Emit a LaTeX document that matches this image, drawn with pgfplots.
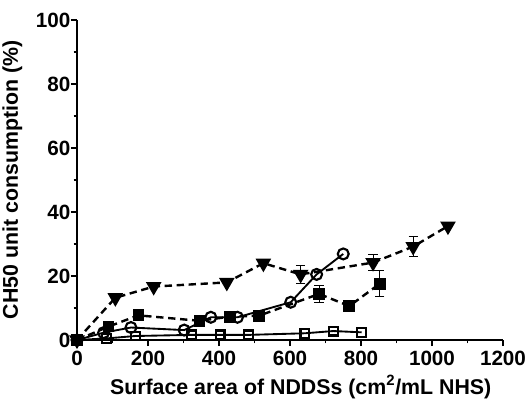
\documentclass[border=0pt]{standalone}
\usepackage{pgfplots}
\pgfplotsset{compat=1.18}
\usepackage{pgfplotstable}
\usepackage{fontspec}
\setmainfont{Liberation Sans}
\pgfplotstableread{
x y ey
0 0 0
108 13.2 0
216 16.7 0
422 18.0 0
525 24.0 0
630 20.5 2.8
834 24.2 2.5
947 29.2 3.2
1045 35.6 0
}\tri
\pgfplotstableread{
x y ey
0 0 0
89 4.2 0
173 7.7 0
345 6.0 0
431 7.3 0
513 7.6 0
682 14.4 2.7
767 10.6 0
853 17.6 4.0
}\fsq
\pgfplotstableread{
x y
0 0
75 2.3
152 3.9
302 3.1
377 7.1
452 7.1
602 11.8
675 20.5
750 26.9
}\ocirc
\pgfplotstableread{
x y
0 0
84 0.5
164 1.25
323 1.6
403 1.6
483 1.6
642 2.1
722 2.8
802 2.4
}\osq
\begin{document}
\begin{tikzpicture}
\begin{axis}[
  at={(57.75pt,48pt)}, anchor=south west,
  scale only axis,
  width=319.5pt, height=240pt,
  xmin=0, xmax=1200, ymin=0, ymax=100,
  axis lines=left,
  axis line style={-, line width=1.8pt},
  clip=false,
  xtick={0,200,...,1200},
  ytick={0,20,...,100},
  minor x tick num=1,
  minor y tick num=1,
  tick align=outside,
  major tick length=4.5pt,
  minor tick length=2.5pt,
  every tick/.style={black, line width=1.4pt},
  tick label style={font=\bfseries\fontsize{15.5}{17}\selectfont},
  yticklabel style={xshift=3pt},
  /pgf/number format/assume math mode=true,
  /pgf/number format/1000 sep={},
  label style={font=\bfseries\fontsize{16}{18}\selectfont},
  xlabel={Surface area of NDDSs (cm\textsuperscript{2}/mL NHS)},
  ylabel={CH50 unit consumption (\%)},
  xlabel style={at={(axis description cs:0.5,0)}, anchor=base, yshift=-40.5pt, xshift=8pt},
  ylabel style={at={(axis description cs:0,0.5)}, anchor=center, yshift=48.5pt},
  error bars/error bar style={line width=0.8pt, solid},
  error bars/error mark options={rotate=90, mark size=3.5pt, line width=0.8pt},
]
\addplot[black, line width=1.8pt, dash pattern=on 5.5pt off 3.5pt, mark=triangle*, mark size=5pt, mark options={solid, rotate=180},
  error bars/.cd, y dir=both, y explicit] table[x=x, y=y, y error=ey] {\tri};
\addplot[black, line width=1.8pt, dash pattern=on 5.5pt off 3.5pt, mark=square*, mark size=3.5pt, mark options={solid},
  error bars/.cd, y dir=both, y explicit] table[x=x, y=y, y error=ey] {\fsq};
\addplot[black, line width=1.4pt, mark=o, mark size=4.1pt, mark options={solid, fill=white, line width=1.6pt}] table[x=x, y=y] {\ocirc};
\addplot[black, line width=1.4pt, mark=square, mark size=3.3pt, mark options={solid, fill=white, line width=1.6pt}] table[x=x, y=y] {\osq};
\end{axis}
\pgfresetboundingbox
\useasboundingbox (0,0) rectangle (396pt,303pt);
\end{tikzpicture}
\end{document}
